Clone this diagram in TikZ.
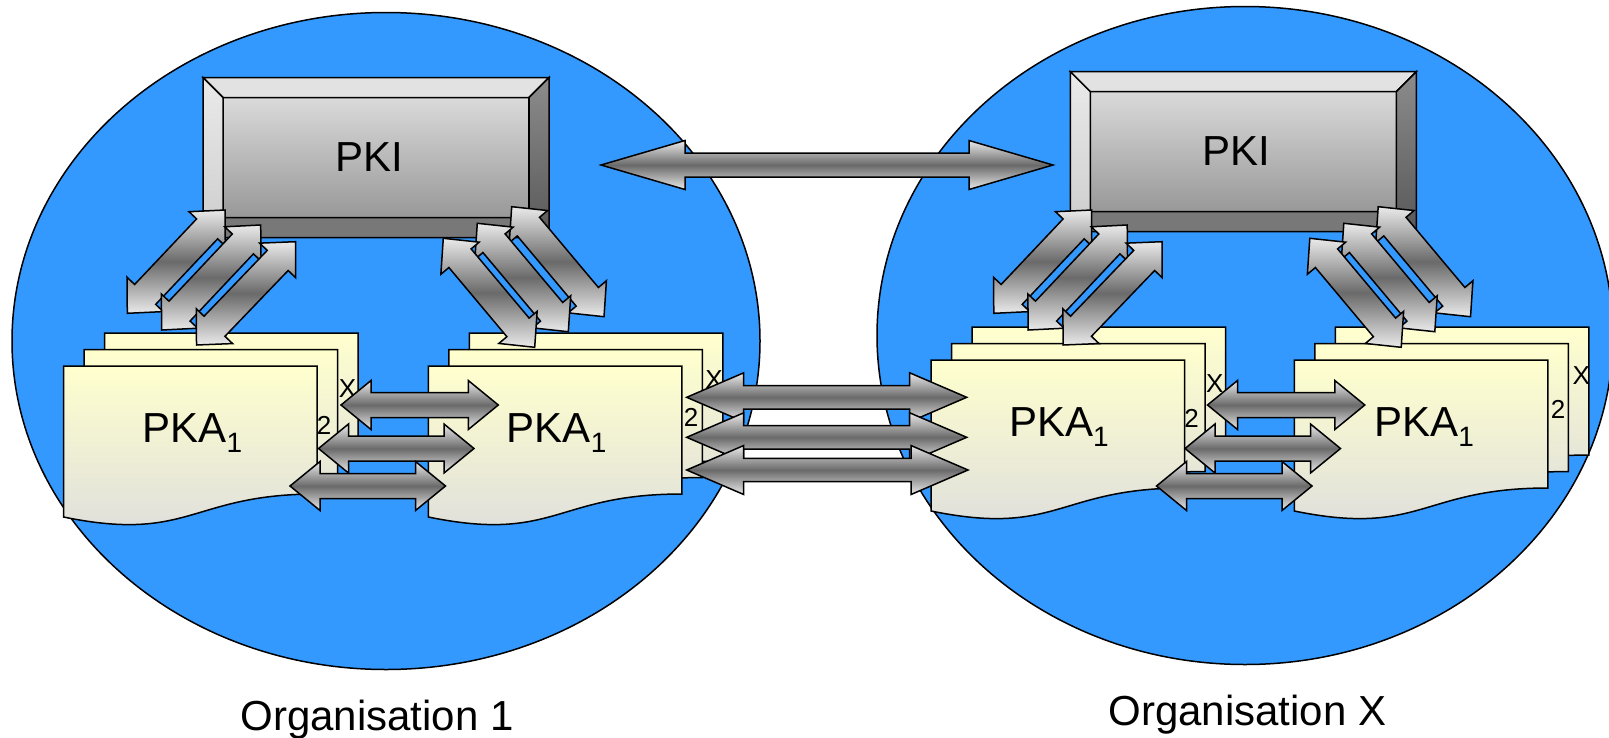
\documentclass[tikz,border=0pt]{standalone}
\usepackage{fontspec}
\setmainfont{Liberation Sans}
\usetikzlibrary{calc,shapes.geometric}
\definecolor{orgblue}{RGB}{51,153,255}
\definecolor{pagetop}{RGB}{255,255,206}
\definecolor{pagebot}{RGB}{221,221,221}
\definecolor{arrlight}{RGB}{234,234,234}
\definecolor{arrdark}{RGB}{106,106,106}
\definecolor{facetop}{RGB}{218,218,218}
\definecolor{facebot}{RGB}{152,152,152}
\definecolor{bevtop}{RGB}{226,226,226}
\definecolor{bevlefttop}{RGB}{234,234,234}
\definecolor{bevleftbot}{RGB}{205,205,205}
\definecolor{bevrighttop}{RGB}{140,140,140}
\definecolor{bevrightbot}{RGB}{88,88,88}
\definecolor{bevbot}{RGB}{120,120,120}
\tikzset{
  outl/.style={draw=black, line width=1.5pt, line join=miter},
  org/.style={outl, fill=orgblue, ellipse, inner sep=0pt, outer sep=0pt},
  arrowbody/.style={outl, top color=arrlight, bottom color=arrlight, middle color=arrdark},
  pagebody/.style={outl, top color=pagetop, bottom color=pagebot},
  pkiface/.style={outl, rectangle, inner sep=0pt, outer sep=0pt, minimum width=306pt, minimum height=120pt, top color=facetop, bottom color=facebot},
  bigtext/.style={font=\fontsize{42}{50}\selectfont, inner sep=0pt, anchor=base},
  smalltext/.style={font=\fontsize{26}{30}\selectfont, inner sep=0pt},
}
% double block arrow: start, end, head length, head half width, shaft half width
\newcommand{\blockarrow}[5]{%
  \draw[arrowbody] (#1)
    -- ($(#1)!#3!(#2)!#4!90:(#2)$)
    -- ($(#1)!#3!(#2)!#5!90:(#2)$)
    -- ($(#2)!#3!(#1)!#5!-90:(#1)$)
    -- ($(#2)!#3!(#1)!#4!-90:(#1)$)
    -- (#2)
    -- ($(#2)!#3!(#1)!#4!90:(#1)$)
    -- ($(#2)!#3!(#1)!#5!90:(#1)$)
    -- ($(#1)!#3!(#2)!#5!-90:(#2)$)
    -- ($(#1)!#3!(#2)!#4!-90:(#2)$)
    -- cycle;}
\newcommand{\docpage}[2]{%
  \draw[pagebody] (#1,#2) -- ({#1+253.5},{#2}) -- ({#1+253.5},{#2+128})
    .. controls ({#1+127},{#2+128}) and ({#1+127},{#2+177}) .. ({#1},{#2+151}) -- cycle;}
\newcommand{\pkastack}[2]{%
  \docpage{#1+41}{#2-33}%
  \docpage{#1+20.5}{#2-16.5}%
  \docpage{#1}{#2}}
\newcommand{\pkibevel}[1]{%
  \draw[outl, fill=bevtop] (#1.north west) -- (#1.north east) -- ++(20pt,20pt) -- ($(#1.north west)+(-20pt,20pt)$) -- cycle;
  \draw[outl, top color=bevrighttop, bottom color=bevrightbot] (#1.north east) -- ++(20pt,20pt) -- ($(#1.south east)+(20pt,-20pt)$) -- (#1.south east) -- cycle;
  \draw[outl, fill=bevbot] (#1.south west) -- (#1.south east) -- ++(20pt,-20pt) -- ($(#1.south west)+(-20pt,-20pt)$) -- cycle;
  \draw[outl, top color=bevlefttop, bottom color=bevleftbot] (#1.north west) -- ++(-20pt,20pt) -- ($(#1.south west)+(-20pt,-20pt)$) -- (#1.south west) -- cycle;}
\begin{document}
\begin{tikzpicture}[x=1pt,y=-1pt]
\useasboundingbox (0,0) rectangle (1609,737);
\clip (0,0) rectangle (1609,737);
% organisations
\node[org, minimum width=748pt, minimum height=657pt] (org1) at (386,341) {};
\node[org, minimum width=736pt, minimum height=658pt] (orgx) at (1245,335.5) {};
% PKI boxes
\node[pkiface] (pki1) at (376,157.5) {};
\pkibevel{pki1}
\node[bigtext] (pki1t) at (369.4,171) {PKI};
\node[pkiface] (pkix) at (1243.3,151.7) {};
\pkibevel{pkix}
\node[bigtext] (pkixt) at (1236.8,165) {PKI};
% PKA stacks
\pkastack{63.5}{366}
\pkastack{428.3}{366}
\pkastack{931}{360}
\pkastack{1294.3}{360}
\node[bigtext] (pka1a) at (192.5,442.7) {PKA\raisebox{-10pt}{\fontsize{28}{30}\selectfont 1}};
\node[bigtext] (pka1b) at (556.7,442.7) {PKA\raisebox{-10pt}{\fontsize{28}{30}\selectfont 1}};
\node[bigtext] (pkaxa) at (1059,436.7) {PKA\raisebox{-10pt}{\fontsize{28}{30}\selectfont 1}};
\node[bigtext] (pkaxb) at (1424,436.7) {PKA\raisebox{-10pt}{\fontsize{28}{30}\selectfont 1}};
\node[smalltext] (x1a) at (347.5,389) {X};
\node[smalltext] (n1a) at (324,425) {2};
\node[smalltext] (x1b) at (714,380) {X};
\node[smalltext] (n1b) at (691,417) {2};
\node[smalltext] (xxa) at (1214.7,383.3) {X};
\node[smalltext] (nxa) at (1191.7,418.3) {2};
\node[smalltext] (xxb) at (1581.3,375.5) {X};
\node[smalltext] (nxb) at (1558,409.7) {2};
% labels
\node[bigtext] (org1t) at (377,730.7) {Organisation 1};
\node[bigtext] (orgxt) at (1247.5,725) {Organisation X};
% arrow end points
\coordinate (a1s) at (127.3,313.3); \coordinate (a1e) at (225,210);
\coordinate (a2s) at (161.7,330);   \coordinate (a2e) at (260.7,225);
\coordinate (a3s) at (196.5,345);   \coordinate (a3e) at (295.7,241.7);
\coordinate (b3s) at (511.7,206.7); \coordinate (b3e) at (604,316.7);
\coordinate (b2s) at (477.3,223.3); \coordinate (b2e) at (568.3,331.7);
\coordinate (b1s) at (443.3,238.3); \coordinate (b1e) at (534.7,347.3);
\coordinate (ax1s) at (993.8,313.3); \coordinate (ax1e) at (1091.5,210);
\coordinate (ax2s) at (1028.2,330);  \coordinate (ax2e) at (1127.2,225);
\coordinate (ax3s) at (1063,345);    \coordinate (ax3e) at (1162.2,241.7);
\coordinate (bx3s) at (1378.2,206.7); \coordinate (bx3e) at (1470.5,316.7);
\coordinate (bx2s) at (1343.8,223.3); \coordinate (bx2e) at (1434.8,331.7);
\coordinate (bx1s) at (1309.8,238.3); \coordinate (bx1e) at (1401.2,347.3);
\coordinate (h1s) at (341,405);     \coordinate (h1e) at (498.3,405);
\coordinate (h2s) at (318.5,448.5); \coordinate (h2e) at (474,448.5);
\coordinate (h3s) at (290,486);     \coordinate (h3e) at (445.5,486);
\coordinate (hx1s) at (1207.5,405);   \coordinate (hx1e) at (1364.8,405);
\coordinate (hx2s) at (1185,448.5);   \coordinate (hx2e) at (1340.5,448.5);
\coordinate (hx3s) at (1156.5,486);   \coordinate (hx3e) at (1312,486);
\coordinate (g1s) at (686.7,397.3); \coordinate (g1e) at (966.7,397.3);
\coordinate (g2s) at (686.7,437.3); \coordinate (g2e) at (966.7,437.3);
\coordinate (g3s) at (686.7,470);   \coordinate (g3e) at (968,470);
\coordinate (ts) at (601,165);      \coordinate (te) at (1053,165);
% diagonal arrows
\blockarrow{a1s}{a1e}{26pt}{25pt}{14.5pt}
\blockarrow{a2s}{a2e}{26pt}{25pt}{14.5pt}
\blockarrow{a3s}{a3e}{26pt}{25pt}{14.5pt}
\blockarrow{b3s}{b3e}{26pt}{25pt}{14.5pt}
\blockarrow{b2s}{b2e}{26pt}{25pt}{14.5pt}
\blockarrow{b1s}{b1e}{26pt}{25pt}{14.5pt}
\blockarrow{ax1s}{ax1e}{26pt}{25pt}{14.5pt}
\blockarrow{ax2s}{ax2e}{26pt}{25pt}{14.5pt}
\blockarrow{ax3s}{ax3e}{26pt}{25pt}{14.5pt}
\blockarrow{bx3s}{bx3e}{26pt}{25pt}{14.5pt}
\blockarrow{bx2s}{bx2e}{26pt}{25pt}{14.5pt}
\blockarrow{bx1s}{bx1e}{26pt}{25pt}{14.5pt}
% horizontal arrows
\blockarrow{h1s}{h1e}{30pt}{24.5pt}{12.5pt}
\blockarrow{h2s}{h2e}{30pt}{24.5pt}{12.5pt}
\blockarrow{h3s}{h3e}{30pt}{24.5pt}{12.5pt}
\blockarrow{hx1s}{hx1e}{30pt}{24.5pt}{12.5pt}
\blockarrow{hx2s}{hx2e}{30pt}{24.5pt}{12.5pt}
\blockarrow{hx3s}{hx3e}{30pt}{24.5pt}{12.5pt}
\blockarrow{g1s}{g1e}{57pt}{24.5pt}{11.7pt}
\blockarrow{g2s}{g2e}{57pt}{24.5pt}{11.7pt}
\blockarrow{g3s}{g3e}{57pt}{24.5pt}{11.7pt}
\blockarrow{ts}{te}{84pt}{24.5pt}{12pt}
\end{tikzpicture}
\end{document}
